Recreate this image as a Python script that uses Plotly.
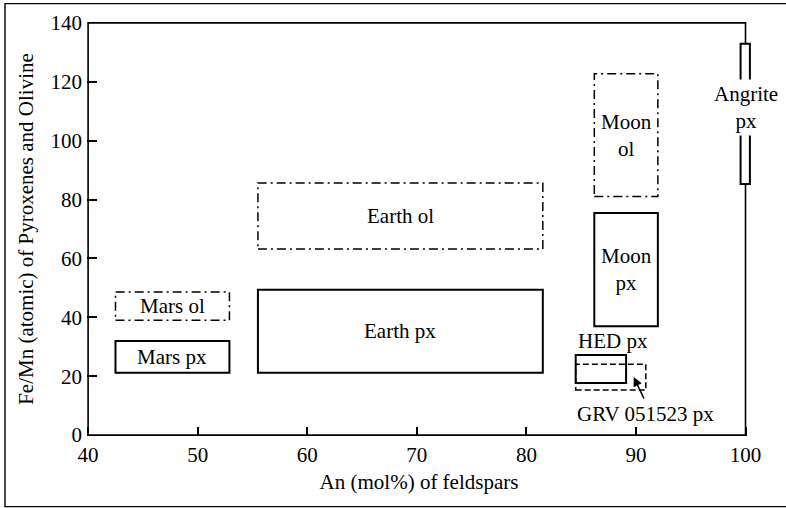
import plotly.graph_objects as go

# ---- data ----
fields = ["Mars ol", "Mars px", "Earth ol", "Earth px", "Moon ol", "Moon px",
          "HED px", "GRV 051523 px", "Angrite px"]
an_min = [42.5, 42.5, 55.5, 55.5, 86.2, 86.2, 84.5, 84.5, 99.55]
an_max = [52.9, 52.9, 81.5, 81.5, 92.0, 92.0, 89.1, 90.9, 100.4]
femn_min = [39.0, 21.2, 63.2, 21.2, 81.0, 37.0, 17.7, 15.3, 85.3]
femn_max = [48.6, 32.0, 85.6, 49.4, 122.7, 75.4, 27.2, 24.1, 132.9]

# label texts and where they sit (data units)
label_text = ["Mars ol", "Mars px", "Earth ol", "Earth px", "Moon<br>ol", "Moon<br>px",
              "HED px", "GRV 051523 px", "Angrite<br>px"]
label_an = [47.7, 47.7, 68.5, 68.5, 89.1, 89.1, 87.9, 90.9, 100.0]
label_femn = [43.8, 26.6, 74.4, 35.3, 101.8, 56.2, 31.9, 7.2, 111.4]

# arrow from GRV label to its field
arrow_tail = (90.8, 11.9)
arrow_head = (89.8, 19.7)

x_ticks = [40, 50, 60, 70, 80, 90, 100]
y_ticks = [0, 20, 40, 60, 80, 100, 120, 140]
x_title = "An (mol%) of feldspars"
y_title = "Fe/Mn (atomic) of Pyroxenes and Olivine"

FONT = "Liberation Serif, Times New Roman, serif"
FS = 21

fig = go.Figure()
# invisible trace so the axes exist
fig.add_trace(go.Scatter(x=[x_ticks[0], x_ticks[-1]], y=[y_ticks[0], y_ticks[-1]],
                         mode="markers", marker=dict(opacity=0), hoverinfo="skip",
                         showlegend=False))

shapes = []
# plot frame
shapes.append(dict(type="rect", xref="x", yref="y",
                   x0=x_ticks[0], x1=x_ticks[-1], y0=y_ticks[0], y1=y_ticks[-1],
                   line=dict(color="black", width=1.6), layer="above"))
# outer picture border
shapes.append(dict(type="rect", xref="paper", yref="paper",
                   x0=-0.1235, x1=1.2, y0=-0.1705, y1=1.0445,
                   line=dict(color="black", width=1.4), layer="above"))

for i, name in enumerate(fields):
    if name.startswith("GRV"):
        line = dict(color="black", width=1.5, dash="6px,3px")
        fill = None
    elif name.endswith(" ol"):
        line = dict(color="black", width=1.5, dash="9px,4px,2px,4px")
        fill = None
    else:
        line = dict(color="black", width=2)
        fill = "white" if name.startswith("Angrite") else None
    s = dict(type="rect", xref="x", yref="y",
             x0=an_min[i], x1=an_max[i], y0=femn_min[i], y1=femn_max[i],
             line=line, layer="above")
    if fill:
        s["fillcolor"] = fill
    shapes.append(s)

annotations = []
for i, t in enumerate(label_text):
    a = dict(x=label_an[i], y=label_femn[i], xref="x", yref="y", text=t,
             showarrow=False, font=dict(family=FONT, size=FS, color="black"))
    if t.startswith("Angrite"):
        a["bgcolor"] = "white"
        a["borderpad"] = 2
    annotations.append(a)

annotations.append(dict(x=arrow_head[0], y=arrow_head[1], ax=arrow_tail[0], ay=arrow_tail[1],
                        xref="x", yref="y", axref="x", ayref="y", text="",
                        showarrow=True, arrowhead=2, arrowsize=1.2, arrowwidth=1.5,
                        arrowcolor="black", standoff=0, startstandoff=0))

fig.update_layout(
    width=786, height=508,
    margin=dict(l=87, r=35, t=22, b=72),
    paper_bgcolor="white", plot_bgcolor="white",
    font=dict(family=FONT, size=FS, color="black"),
    shapes=shapes, annotations=annotations, showlegend=False,
    xaxis=dict(range=[39.9, 100.5], tickvals=x_ticks, ticks="inside", ticklen=9,
               tickwidth=1.5, tickcolor="black", showline=False, showgrid=False,
               zeroline=False, ticklabelstandoff=4,
               tickfont=dict(family=FONT, size=FS, color="black"),
               title=dict(text=x_title, standoff=8, font=dict(family=FONT, size=FS))),
    yaxis=dict(range=[-0.3, 140.3], tickvals=y_ticks, ticks="inside", ticklen=10,
               tickwidth=1.5, tickcolor="black", showline=False, showgrid=False,
               zeroline=False, ticklabelstandoff=4,
               tickfont=dict(family=FONT, size=FS, color="black"),
               title=dict(text=y_title, standoff=11, font=dict(family=FONT, size=FS))),
)

fig.write_html("out.html", config={"displayModeBar": False},
               post_script="document.body.style.margin='0px';")
